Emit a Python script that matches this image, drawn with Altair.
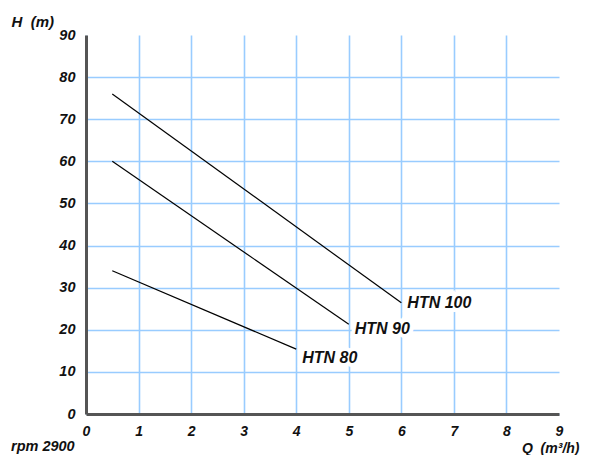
import altair as alt
import pandas as pd

models = ["HTN 100", "HTN 90", "HTN 80"]
q_start = [0.5, 0.5, 0.5]
h_start = [76, 60, 34]
q_end = [6.0, 5.0, 4.0]
h_end = [26.4, 21.3, 15.4]
label_q = [6.0, 5.0, 4.0]
label_h = [26.4, 20.2, 13.3]

x_ticks = [0, 1, 2, 3, 4, 5, 6, 7, 8, 9]
y_ticks = [0, 10, 20, 30, 40, 50, 60, 70, 80, 90]

rows = []
for m, qs, hs, qe, he in zip(models, q_start, h_start, q_end, h_end):
    rows.append({"model": m, "Q": qs, "H": hs})
    rows.append({"model": m, "Q": qe, "H": he})
lines_df = pd.DataFrame(rows)
labels_df = pd.DataFrame({"model": models, "Q": label_q, "H": label_h})

FONT = "Liberation Sans"
W, H = 473, 379
TXT = "#111111"
NB = "\u00a0"

xs = alt.Scale(domain=[0, 9], nice=False)
ys = alt.Scale(domain=[0, 90], nice=False)

x_axis = alt.Axis(
    values=x_ticks, title=f"Q{NB}{NB}(m³/h)", titleAngle=0, titleAlign="right",
    titleX=493, titleY=38, titleBaseline="alphabetic",
    grid=True, gridColor="#99ccff", gridWidth=1.6,
    gridOpacity={"condition": {"test": "datum.value >= 9", "value": 0}, "value": 1},
    domainColor="#555555", domainWidth=3, ticks=False, labelPadding=10,
    labelFont=FONT, labelFontSize=14, labelFontWeight="bold", labelFontStyle="italic",
    labelColor=TXT, labelFlush=False,
    titleFont=FONT, titleFontSize=14, titleFontWeight="bold", titleFontStyle="italic",
    titleColor=TXT,
)
y_axis = alt.Axis(
    values=y_ticks, title=f"H{NB}{NB}(m)", titleAngle=0, titleAlign="left",
    titleX=-75, titleY=-14, titleBaseline="middle",
    grid=True, gridColor="#99ccff", gridWidth=1.6,
    gridOpacity={"condition": {"test": "datum.value >= 90", "value": 0}, "value": 1},
    domainColor="#555555", domainWidth=3, ticks=False, labelPadding=11,
    labelFont=FONT, labelFontSize=14.5, labelFontWeight="bold", labelFontStyle="italic",
    labelColor=TXT, labelFlush=False,
    titleFont=FONT, titleFontSize=15, titleFontWeight="bold", titleFontStyle="italic",
    titleColor=TXT,
)

base_lines = alt.Chart(lines_df).mark_line(color="black", strokeWidth=1.2).encode(
    x=alt.X("Q:Q", scale=xs, axis=x_axis),
    y=alt.Y("H:Q", scale=ys, axis=y_axis),
    detail="model:N",
)

halo = alt.Chart(labels_df).mark_text(
    align="left", baseline="middle", dx=6, font=FONT, fontSize=16,
    fontWeight="bold", fontStyle="italic", color="white", stroke="white", strokeWidth=8,
).encode(x=alt.X("Q:Q", scale=xs), y=alt.Y("H:Q", scale=ys), text="model:N")

labels = alt.Chart(labels_df).mark_text(
    align="left", baseline="middle", dx=6, font=FONT, fontSize=16,
    fontWeight="bold", fontStyle="italic", color=TXT,
).encode(x=alt.X("Q:Q", scale=xs), y=alt.Y("H:Q", scale=ys), text="model:N")

rpm = alt.Chart(pd.DataFrame({"t": ["rpm 2900"]})).mark_text(
    align="left", baseline="alphabetic", font=FONT, fontSize=14.5,
    fontWeight="bold", fontStyle="italic", color=TXT,
).encode(x=alt.value(-75), y=alt.value(H + 37), text="t:N")

chart = alt.layer(base_lines, halo, labels, rpm).properties(
    width=W, height=H,
    autosize=alt.AutoSizeParams(type="none"),
    padding={"left": 78, "top": 27, "right": 22, "bottom": 41},
).configure_view(stroke=None)

chart.save("out.html", embed_options={"renderer": "svg", "actions": False})
